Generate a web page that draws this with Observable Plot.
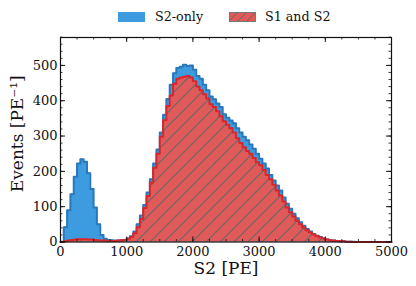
<!DOCTYPE html>
<html><head><meta charset="utf-8">
<script src="https://cdn.jsdelivr.net/npm/d3@7"></script>
<script src="https://cdn.jsdelivr.net/npm/@observablehq/plot@0.6"></script>
<style>
body{margin:0;background:#fff;font-family:"DejaVu Serif",serif;}
#wrap{position:relative;width:416px;height:286px;}
#legend{position:relative;height:28px;font-size:12.7px;color:#111;font-family:"DejaVu Serif",serif;}
.sw{position:absolute;top:12px;width:27px;height:10px;}
.lt{position:absolute;top:8px;line-height:18px;}
</style></head>
<body><div id="wrap">
<div id="legend">
  <div class="sw" style="left:118px;background:#3d9be0;"></div>
  <div class="lt" style="left:155px;">S2-only</div>
  <svg class="sw" style="left:229px;" width="27" height="10">
    <defs><pattern id="lh" width="9" height="9" patternUnits="userSpaceOnUse">
      <path d="M-1,1 l2,-2 M0,9 l9,-9 M8,10 l2,-2" stroke="#666" stroke-width="1"/></pattern></defs>
    <rect x="0.5" y="0.5" width="26" height="9" fill="#e05a5a" stroke="#777" stroke-width="1"/>
    <rect x="0.5" y="0.5" width="26" height="9" fill="url(#lh)"/>
  </svg>
  <div class="lt" style="left:265px;">S1 and S2</div>
</div>
<div id="chart"></div>
</div>
<script>
// Bin edges: 50 PE wide, 0..5000
const binWidth = 50;
const s2Only = [1,42,90,135,185,222,234,227,195,150,98,50,20,9,6,5,4,4,5,6,
  10,16,30,50,75,105,140,178,222,262,310,360,405,445,478,493,496,502,498,500,
  488,470,462,445,430,412,404,392,382,362,352,344,336,322,310,298,288,276,264,250,
  236,222,208,190,174,160,146,126,108,94,80,67,56,46,37,30,23,18,14,10,
  7,5,4,3,2,2,1,1,1,0,0,0,0,0,0,0,0,0,0,0];
const s1AndS2 = [0,2,4,6,7,8,8,8,7,7,6,5,4,4,3,3,3,4,5,6,
  9,14,25,42,65,96,130,168,210,250,298,345,385,415,448,462,466,468,470,466,
  455,440,430,418,406,390,382,370,356,342,332,322,310,294,280,268,258,250,238,226,
  217,204,190,178,162,146,132,115,98,84,72,60,50,41,33,27,21,17,13,10,
  7,5,4,3,2,2,1,1,0,0,0,0,0,0,0,0,0,0,0,0];
const xMajor = [0,1000,2000,3000,4000,5000];
const yMajor = [0,100,200,300,400,500];
const xMinor = d3.range(0,5001,250);
const yMinor = d3.range(0,581,20);

function steps(vals){
  const pts = vals.map((v,i)=>({x:i*binWidth, y:v}));
  pts.push({x:vals.length*binWidth, y:vals[vals.length-1]});
  return [{x:0,y:0}, ...pts, {x:vals.length*binWidth,y:0}];
}
const blue = steps(s2Only), red = steps(s1AndS2);

const W=416, H=258, mt=9, mb=44.5, ml=60, mr=25;
const ih = H-mt-mb, iw = W-ml-mr;

const chart = Plot.plot({
  width:W, height:H, marginTop:mt, marginBottom:mb, marginLeft:ml, marginRight:mr,
  style:{fontFamily:"DejaVu Serif", fontSize:"13px", color:"#111", background:"white"},
  x:{domain:[0,5000]},
  y:{domain:[0,579]},
  marks:[
    Plot.areaY(blue,{x:"x",y:"y",curve:"step-after",fill:"#3d9be0"}),
    Plot.lineY(blue,{x:"x",y:"y",curve:"step-after",stroke:"#2878bb",strokeWidth:2}),
    Plot.areaY(red,{x:"x",y:"y",curve:"step-after",fill:"#e05a5a"}),
    Plot.areaY(red,{x:"x",y:"y",curve:"step-after",fill:"url(#hatch)"}),
    Plot.lineY(red,{x:"x",y:"y",curve:"step-after",stroke:"#d9262b",strokeWidth:2}),
    Plot.tickX(xMinor,{x:d=>d,insetTop:ih-2.5,stroke:"#111",strokeWidth:0.8}),
    Plot.tickX(xMinor,{x:d=>d,insetBottom:ih-2.5,stroke:"#111",strokeWidth:0.8}),
    Plot.tickX(xMajor,{x:d=>d,insetTop:ih-5,stroke:"#111",strokeWidth:1}),
    Plot.tickX(xMajor,{x:d=>d,insetBottom:ih-5,stroke:"#111",strokeWidth:1}),
    Plot.tickY(yMinor,{y:d=>d,insetRight:iw-2.5,stroke:"#111",strokeWidth:0.8}),
    Plot.tickY(yMinor,{y:d=>d,insetLeft:iw-2.5,stroke:"#111",strokeWidth:0.8}),
    Plot.tickY(yMajor,{y:d=>d,insetRight:iw-5,stroke:"#111",strokeWidth:1}),
    Plot.tickY(yMajor,{y:d=>d,insetLeft:iw-5,stroke:"#111",strokeWidth:1}),
    Plot.axisX({ticks:xMajor,tickSize:0,tickPadding:5,label:null,tickFormat:d=>String(d),fontFamily:"DejaVu Serif"}),
    Plot.axisY({ticks:yMajor,tickSize:0,tickPadding:3,label:null,tickFormat:d=>String(d),fontFamily:"DejaVu Serif"}),
    Plot.frame({stroke:"#111",strokeWidth:1.2}),
    Plot.text(["S2 [PE]"],{frameAnchor:"bottom",dy:27,lineAnchor:"middle",fontSize:17,fill:"#111",fontFamily:"DejaVu Serif"}),
    Plot.text(["Events [PE⁻¹]"],{frameAnchor:"left",textAnchor:"middle",dx:-43,dy:-6,rotate:-90,lineAnchor:"middle",fontSize:17,fill:"#111",fontFamily:"DejaVu Serif"})
  ]
});
const defs = document.createElementNS("http://www.w3.org/2000/svg","defs");
defs.innerHTML = '<pattern id="hatch" width="14" height="14" patternUnits="userSpaceOnUse"><path d="M-1,1 l2,-2 M0,14 l14,-14 M13,15 l2,-2" stroke="#666" stroke-width="1.1"/></pattern>';
chart.insertBefore(defs, chart.firstChild);
document.getElementById("chart").appendChild(chart);
</script>
</body></html>
